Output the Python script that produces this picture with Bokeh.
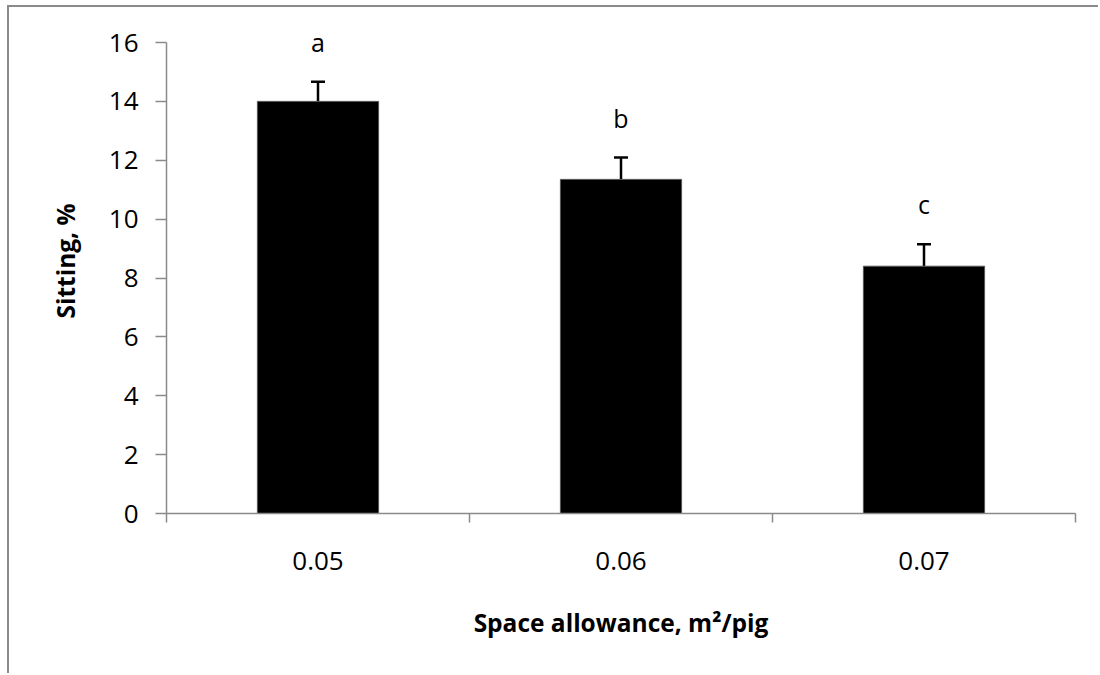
from bokeh.plotting import figure
from bokeh.models import ColumnDataSource, Whisker, TeeHead, FixedTicker, Range1d, LabelSet
from bokeh.core.properties import value
from bokeh.embed import file_html
from bokeh.resources import INLINE

categories = ["0.05", "0.06", "0.07"]
sitting = [14.0, 11.35, 8.4]
sem = [0.67, 0.74, 0.75]
letters = ["a", "b", "c"]
y_ticks = [0, 2, 4, 6, 8, 10, 12, 14, 16]

FONT = "Open Sans"
GRAY = "#8a8a8a"

xpos = [i + 0.5 for i in range(len(categories))]
upper = [v + e for v, e in zip(sitting, sem)]
src = ColumnDataSource(dict(x=xpos, top=sitting, upper=upper, lab=letters))

p = figure(width=1091, height=668, output_backend="svg", toolbar_location=None,
           x_range=Range1d(0, len(categories)), y_range=Range1d(0, 17.155),
           min_border_left=157, min_border_right=25, min_border_top=1,
           min_border_bottom=162)
p.styles = {"border-left": f"2px solid {GRAY}", "border-top": f"2px solid {GRAY}",
            "margin-left": "7px", "margin-top": "5px"}
p.outline_line_color = None
p.grid.visible = False
p.background_fill_color = "white"
p.border_fill_color = "white"

p.vbar(x="x", top="top", bottom=0, width=0.4, source=src,
       fill_color="black", line_color="#555555", line_width=1)

w = Whisker(base="x", lower="top", upper="upper", source=src,
            line_color="black", line_width=2.5,
            upper_head=TeeHead(size=14, line_color="black", line_width=2.5),
            lower_head=None)
p.add_layout(w)

labels = LabelSet(x="x", y="upper", text="lab", source=src, text_align="center",
                  text_baseline="middle", y_offset=40, text_font=value(FONT),
                  text_font_size="25px", text_color="black")
p.add_layout(labels)

# x axis
xa = p.xaxis[0]
xa.ticker = FixedTicker(ticks=xpos, minor_ticks=list(range(len(categories) + 1)))
xa.major_label_overrides = {x: c for x, c in zip(xpos, categories)}
xa.major_tick_in = 0
xa.major_tick_out = 0
xa.minor_tick_in = 0
xa.minor_tick_out = 9
xa.minor_tick_line_color = GRAY
xa.axis_line_color = GRAY
xa.axis_line_width = 1.5
xa.minor_tick_line_width = 1.5
xa.major_label_standoff = 29
xa.major_label_text_font = FONT
xa.major_label_text_font_size = "26px"
xa.major_label_text_color = "black"
xa.axis_label = "Space allowance, m²/pig"
xa.axis_label_text_font = FONT
xa.axis_label_text_font_style = "bold"
xa.axis_label_text_font_size = "24.5px"
xa.axis_label_text_color = "black"
xa.axis_label_standoff = 33

# y axis
ya = p.yaxis[0]
ya.ticker = FixedTicker(ticks=y_ticks)
ya.bounds = (0, 16)
ya.major_tick_in = 0
ya.major_tick_out = 11
ya.minor_tick_out = 0
ya.minor_tick_in = 0
ya.major_tick_line_color = GRAY
ya.major_tick_line_width = 1.5
ya.axis_line_color = GRAY
ya.axis_line_width = 1.5
ya.major_label_standoff = 17
ya.major_label_text_font = FONT
ya.major_label_text_font_size = "26px"
ya.major_label_text_color = "black"
ya.axis_label = "Sitting, %"
ya.axis_label_text_font = FONT
ya.axis_label_text_font_style = "bold"
ya.axis_label_text_font_size = "24.5px"
ya.axis_label_text_color = "black"
ya.axis_label_standoff = 24

open("out.html", "w").write(file_html(p, INLINE))
